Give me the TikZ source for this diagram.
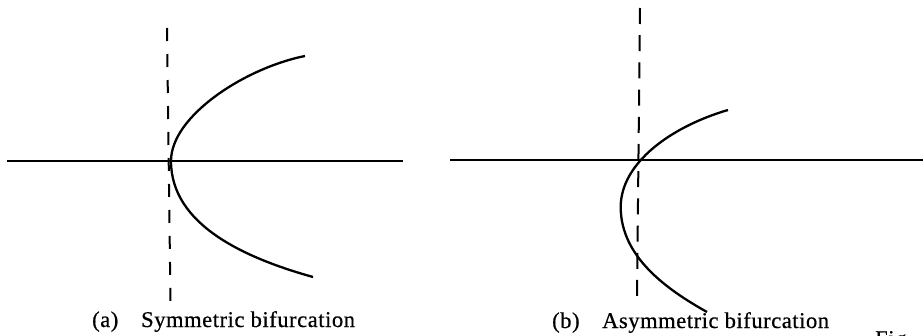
\documentclass[tikz,border=0pt]{standalone}
\usepackage{fontspec}
\setmainfont{Liberation Serif}
\begin{document}
\begin{tikzpicture}[x=1pt,y=-1pt,
  axis/.style={line width=1.9pt},
  branch/.style={line width=2.3pt},
  guideA/.style={line width=2pt, dash pattern=on 13pt off 13pt},
  guideB/.style={line width=2pt, dash pattern=on 16pt off 11.2pt},
  caption/.style={font=\fontsize{22.5}{26}\selectfont\addfontfeature{LetterSpace=2.5,FakeBold=0.6}, anchor=base west, inner sep=0pt}]
\useasboundingbox (0,0) rectangle (923,335);

% (a) symmetric bifurcation
\coordinate (aL) at (7,161);
\coordinate (aR) at (403,161);
\coordinate (aT) at (167,28);
\coordinate (aB) at (170.5,303);
\coordinate (aV) at (171,161);
\coordinate (aU) at (305,56);
\coordinate (aD) at (313,277);
\draw[axis] (aL) -- (aR);
\draw[guideA] (aT) -- (aB);
\draw[branch] (aU) .. controls (245,68) and (171,116) .. (aV)
              .. controls (171,225) and (245,258) .. (aD);
\node[caption] (capa) at (92,327) {(a)};
\node[caption] (texta) at (141,327) {Symmetric bifurcation};

% (b) asymmetric bifurcation
\coordinate (bL) at (450,160);
\coordinate (bR) at (923,160);
\coordinate (bT) at (640,8);
\coordinate (bB) at (637,298);
\coordinate (bV) at (620.7,207);
\coordinate (bU) at (728,110);
\coordinate (bD) at (707,312);
\draw[axis] (bL) -- (bR);
\draw[guideB] (bT) -- (bB);
\draw[branch] (bU) .. controls (673,126) and (620.7,162) .. (bV)
              .. controls (620.7,257) and (667,289.6) .. (bD);
\node[caption] (capb) at (552,328) {(b)};
\node[caption] (textb) at (602,328) {Asymmetric bifurcation};

% figure number, cut by the page edge
\node[caption] (fig) at (875,346) {Fig.};
\end{tikzpicture}
\end{document}
